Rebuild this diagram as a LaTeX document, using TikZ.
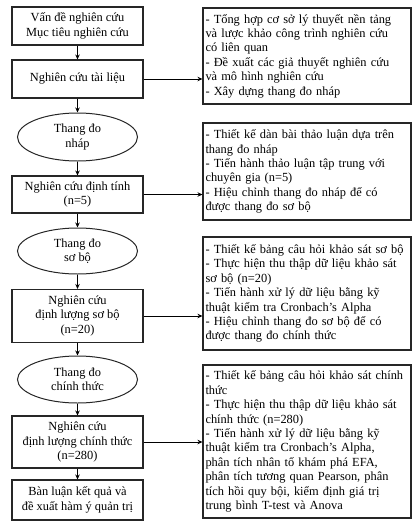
\documentclass[tikz,border=0pt]{standalone}
\usepackage{fontspec}
\setmainfont{Liberation Serif}
\usetikzlibrary{shapes.geometric,arrows.meta}
\begin{document}
\begin{tikzpicture}[x=1pt,y=1pt,
  every node/.style={font=\fontsize{12.4pt}{14.4pt}\selectfont},
  lbox/.style={draw=black!85,line width=1.1pt,rectangle,minimum width=131pt,align=center,inner sep=2pt},
  ovalbox/.style={draw=black!85,line width=1pt,ellipse,minimum width=120pt,align=center,inner sep=0pt},
  rbox/.style={draw=black!85,line width=1.1pt,rectangle,minimum width=208pt,text width=203pt,align=left,inner xsep=2.5pt,inner ysep=2pt},
  conn/.style={draw=black,line width=0.8pt,-{Stealth[length=5pt,width=4.5pt]}}
]
\useasboundingbox (0,0) rectangle (418,-525);
\node[lbox,minimum height=38pt] (b1) at (77.5,-26) {Vấn đề nghiên cứu\\Mục tiêu nghiên cứu};
\node[lbox,minimum height=38pt] (b2) at (77.5,-79) {Nghiên cứu tài liệu};
\node[ovalbox,minimum height=48pt] (e1) at (77.5,-137) {Thang đo\\nháp};
\node[lbox,minimum height=37pt] (b3) at (77.5,-194.5) {Nghiên cứu định tính\\(n=5)};
\node[ovalbox,minimum height=46pt] (e2) at (77.5,-251) {Thang đo\\sơ bộ};
\node[lbox,minimum height=53pt] (b4) at (77.5,-316) {Nghiên cứu\\định lượng sơ bộ\\(n=20)};
\node[ovalbox,minimum height=47pt] (e3) at (77.5,-379.5) {Thang đo\\chính thức};
\node[lbox,minimum height=52pt] (b5) at (77.5,-442) {Nghiên cứu\\định lượng chính thức\\(n=280)};
\node[lbox,minimum height=40pt] (b6) at (77.5,-500) {Bàn luận kết quả và\\đề xuất hàm ý quản trị};

\node[rbox,minimum height=96pt] (r1) at (307,-56) {- Tổng hợp cơ sở lý thuyết nền tảng\\và lược khảo công trình nghiên cứu\\có liên quan\\- Đề xuất các giả thuyết nghiên cứu\\và mô hình nghiên cứu\\- Xây dựng thang đo nháp};
\node[rbox,minimum height=97pt] (r2) at (307,-171.5) {- Thiết kế dàn bài thảo luận dựa trên\\thang đo nháp\\- Tiến hành thảo luận tập trung với\\chuyên gia (n=5)\\- Hiệu chỉnh thang đo nháp để có\\được thang đo sơ bộ};
\node[rbox,minimum height=113pt] (r3) at (307,-293.5) {- Thiết kế bảng câu hỏi khảo sát sơ bộ\\- Thực hiện thu thập dữ liệu khảo sát\\sơ bộ (n=20)\\- Tiến hành xử lý dữ liệu bằng kỹ\\thuật kiểm tra Cronbach’s Alpha\\- Hiệu chỉnh thang đo sơ bộ để có\\được thang đo chính thức};
\node[rbox,minimum height=153pt] (r4) at (307,-441.5) {- Thiết kế bảng câu hỏi khảo sát chính\\thức\\- Thực hiện thu thập dữ liệu khảo sát\\chính thức (n=280)\\- Tiến hành xử lý dữ liệu bằng kỹ\\thuật kiểm tra Cronbach’s Alpha,\\phân tích nhân tố khám phá EFA,\\phân tích tương quan Pearson, phân\\tích hồi quy bội, kiểm định giá trị\\trung bình T-test và Anova};

\draw[conn] (b1) -- (b2);
\draw[conn] (b2) -- (e1);
\draw[conn] (e1) -- (b3);
\draw[conn] (b3) -- (e2);
\draw[conn] (e2) -- (b4);
\draw[conn] (b4) -- (e3);
\draw[conn] (e3) -- (b5);
\draw[conn] (b5) -- (b6);

\draw[conn] (b2.east) -- (b2.east -| r1.west);
\draw[conn] (b3.east) -- (b3.east -| r2.west);
\draw[conn] (b4.east) -- (b4.east -| r3.west);
\draw[conn] (b5.east) -- (b5.east -| r4.west);
\end{tikzpicture}
\end{document}
